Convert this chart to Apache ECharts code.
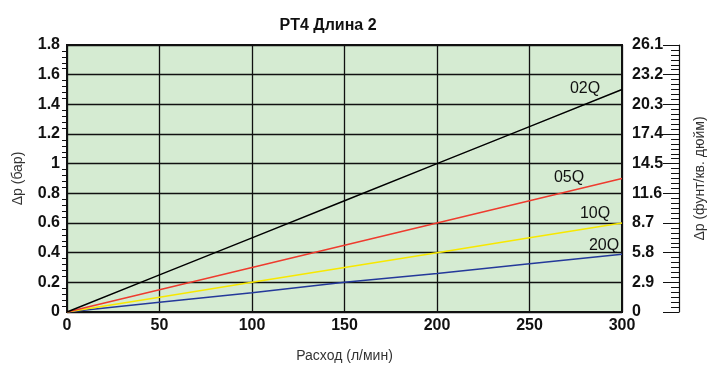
<!DOCTYPE html>
<html><head><meta charset="utf-8">
<script src="https://cdn.jsdelivr.net/npm/echarts@6/dist/echarts.min.js"></script>
<style>html,body{margin:0;padding:0;background:#fff}#c{width:715px;height:367px}</style>
</head><body><div id="c"></div>
<script>
var flow = [0, 50, 100, 150, 200, 250, 300];
var s02Q = [0, 0.25, 0.5, 0.75, 1.0, 1.25, 1.5];
var s05Q = [0, 0.15, 0.3, 0.45, 0.6, 0.75, 0.9];
var s10Q = [0, 0.1, 0.2, 0.3, 0.4, 0.5, 0.6];
var s20Q = [0, 0.065, 0.13, 0.2, 0.26, 0.325, 0.39];
var seriesNames = ['02Q', '05Q', '10Q', '20Q'];
var title = 'PT4 Длина 2';
var xName = 'Расход (л/мин)';
var yLeftName = 'Δp (бар)';
var yRightName = 'Δp (фунт/кв. дюйм)';

var FONT = '"Liberation Sans", Arial, sans-serif';
var colors = ['#000000', '#ee3b2e', '#f7e800', '#24399a'];
var labelOffsets = [[-37, -1], [-53, -1], [-27, -9], [-18, -9]];
var allData = [s02Q, s05Q, s10Q, s20Q];

function mkSeries(i) {
  var d = allData[i].map(function (v, k) { return [flow[k], v]; });
  return {
    name: seriesNames[i], type: 'line', data: d, symbol: 'none',
    lineStyle: { color: colors[i], width: 1.5 }, z: 5 - i,
    endLabel: {
      show: true, formatter: seriesNames[i], distance: 0, align: 'center', verticalAlign: 'middle',
      offset: labelOffsets[i], color: '#111', fontSize: 16, fontFamily: FONT
    }
  };
}

var chart = echarts.init(document.getElementById('c'));
chart.setOption({
  animation: false,
  textStyle: { fontFamily: FONT },
  title: {
    text: title, left: 323, top: 13, textAlign: 'center',
    textStyle: { fontFamily: FONT, fontWeight: 'bold', fontSize: 16, color: '#111' }
  },
  grid: {
    left: 67, right: 93, top: 45, bottom: 55, show: true, containLabel: false, outerBoundsMode: 'none',
    backgroundColor: '#d5ebd2', borderColor: '#111', borderWidth: 2
  },
  xAxis: {
    type: 'value', min: 0, max: 300, interval: 50,
    name: xName, nameLocation: 'middle', nameGap: 37,
    nameTextStyle: { fontSize: 14, color: '#333', fontFamily: FONT },
    axisLine: { show: true, lineStyle: { color: '#111', width: 2 } },
    axisTick: { show: false },
    axisLabel: { color: '#111', fontWeight: 'bold', fontSize: 16, margin: 6, fontFamily: FONT },
    splitLine: { show: true, lineStyle: { color: '#111', width: 1.3 } }
  },
  yAxis: [{
    type: 'value', min: 0, max: 1.8, interval: 0.2, position: 'left',
    name: yLeftName, nameLocation: 'middle', nameGap: 42, nameRotate: 90,
    nameTextStyle: { fontSize: 14, color: '#333', fontFamily: FONT },
    axisLine: { show: true, lineStyle: { color: '#111', width: 2 } },
    axisTick: { show: false },
    minorTick: { show: true, splitNumber: 5, length: 5, lineStyle: { color: '#111', width: 1 } },
    axisLabel: { color: '#111', fontWeight: 'bold', fontSize: 16, margin: 7, fontFamily: FONT },
    splitLine: { show: true, lineStyle: { color: '#111', width: 1.3 } }
  }, {
    type: 'value', min: 0, max: 26.1, interval: 2.9, position: 'right', offset: 57,
    name: yRightName, nameLocation: 'middle', nameGap: 14, nameRotate: 90,
    nameTextStyle: { fontSize: 14, color: '#333', fontFamily: FONT },
    axisLine: { show: true, lineStyle: { color: '#111', width: 1.2 } },
    axisTick: { show: true, inside: true, length: 16, lineStyle: { color: '#111', width: 1 } },
    minorTick: { show: true, splitNumber: 6, length: 8, lineStyle: { color: '#111', width: 1 } },
    axisLabel: {
      inside: true, align: 'left', margin: 47, color: '#111', fontWeight: 'bold', fontSize: 16, fontFamily: FONT,
      formatter: function (v) { return v === 0 ? '0' : v.toFixed(1); }
    },
    splitLine: { show: false }
  }],
  series: [0, 1, 2, 3].map(mkSeries)
});
</script></body></html>
